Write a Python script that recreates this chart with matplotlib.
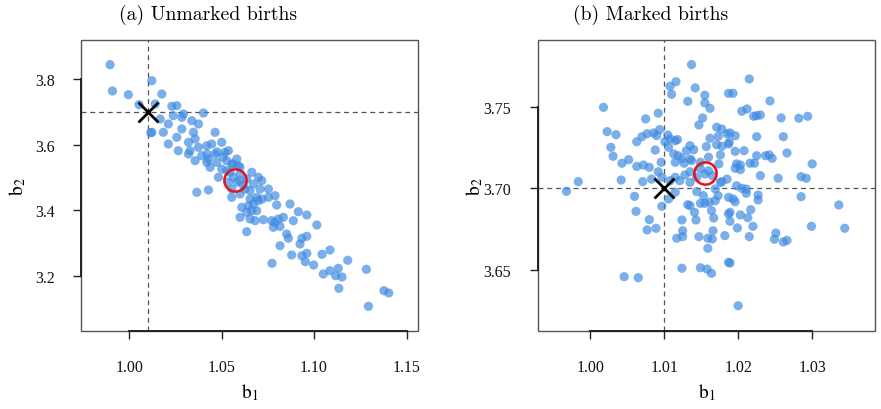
import matplotlib
matplotlib.use("Agg")
import matplotlib.pyplot as plt

plt.rcParams['font.family'] = ['Liberation Serif', 'DejaVu Serif']
plt.rcParams['mathtext.fontset'] = 'stix'

# ---------------- data ----------------
TITLES = ["(a) Unmarked births", "(b) Marked births"]
TRUE_B1 = 1.01
TRUE_B2 = 3.70

UNMARKED_B1 = [0.9897, 1.0123, 0.9910, 0.9996, 1.0054, 1.0117, 1.0177, 1.0141, 1.0231, 1.0258,
               1.0402, 1.0168, 1.0212, 1.0239, 1.0285, 1.0294, 1.0339, 1.0375, 1.0123, 1.0185,
               1.0258, 1.0285, 1.0348, 1.0357, 1.0465, 1.0212, 1.0266, 1.0321, 1.0330, 1.0375,
               1.0420, 1.0447, 1.0501, 1.0321, 1.0357, 1.0393, 1.0429, 1.0465, 1.0474, 1.0438,
               1.0519, 1.0537, 1.0528, 1.0582, 1.0555, 1.0591, 1.0501, 1.0483, 1.0546, 1.0600,
               1.0636, 1.0663, 1.0699, 1.0717, 1.0672, 1.0708, 1.0366, 1.0429, 1.0555, 1.0600,
               1.0627, 1.0654, 1.0690, 1.0753, 1.0753, 1.0789, 1.0609, 1.0645, 1.0672, 1.0564,
               1.0582, 1.0600, 1.0555, 1.0654, 1.0699, 1.0798, 1.0870, 1.0636, 1.0663, 1.0690,
               1.0600, 1.0654, 1.0681, 1.0726, 1.0771, 1.0789, 1.0807, 1.0834, 1.0780, 1.0816,
               1.0888, 1.0915, 1.0961, 1.1015, 1.0636, 1.0852, 1.0861, 1.0816, 1.0934, 1.0961,
               1.0924, 1.0879, 1.0934, 1.0961, 1.0953, 1.0998, 1.1043, 1.1086, 1.0773, 1.1050,
               1.1086, 1.1131, 1.1117, 1.1151, 1.1182, 1.1134, 1.1283, 1.1378, 1.1404, 1.1294,
               1.0422, 1.0476, 1.0508, 1.0562, 1.0528, 1.0600, 1.0420, 1.0616, 1.0535, 1.0719]
UNMARKED_B2 = [3.8435, 3.7948, 3.7635, 3.7522, 3.7218, 3.6365, 3.7543, 3.7239, 3.7169, 3.7187,
               3.6965, 3.6782, 3.6630, 3.6883, 3.6834, 3.6935, 3.6731, 3.6630, 3.6377, 3.6377,
               3.6225, 3.6478, 3.6377, 3.6174, 3.6377, 3.6021, 3.5817, 3.6073, 3.5817, 3.5921,
               3.5970, 3.6021, 3.6073, 3.5717, 3.5513, 3.5665, 3.5565, 3.5717, 3.5464, 3.5312,
               3.5769, 3.5817, 3.5513, 3.5565, 3.5412, 3.5361, 3.5260, 3.5008, 3.5160, 3.5108,
               3.4956, 3.5160, 3.5008, 3.4904, 3.4804, 3.4651, 3.4551, 3.4621, 3.4651, 3.4499,
               3.4651, 3.4600, 3.4399, 3.4651, 3.4399, 3.4447, 3.4094, 3.4143, 3.4195, 3.5008,
               3.4855, 3.4904, 3.4399, 3.4347, 3.4295, 3.4164, 3.4195, 3.3942, 3.3991, 3.3991,
               3.3790, 3.3738, 3.3687, 3.3717, 3.3687, 3.3638, 3.3738, 3.3790, 3.3486, 3.3516,
               3.3687, 3.3960, 3.3860, 3.3556, 3.3352, 3.3282, 3.3151, 3.2925, 3.3151, 3.3212,
               3.2977, 3.2642, 3.2621, 3.2694, 3.2438, 3.2338, 3.2664, 3.2795, 3.2390, 3.2064,
               3.2164, 3.2237, 3.2012, 3.1973, 3.2481, 3.1629, 3.2207, 3.1556, 3.1486, 3.1081,
               3.5717, 3.5778, 3.5626, 3.5412, 3.5209, 3.5312, 3.5464, 3.4773, 3.4865, 3.4347]
UNMARKED_EST = (1.0573, 3.4935)

MARKED_B1 = [1.0137, 1.0108, 1.0116, 1.0110, 1.0142, 1.0132, 1.0155, 1.0155, 1.0162, 1.0187,
             1.0018, 1.0092, 1.0075, 1.0152, 1.0147, 1.0171, 1.0178, 1.0023, 1.0035, 1.0070,
             1.0077, 1.0086, 1.0094, 1.0090, 1.0105, 1.0108, 1.0115, 1.0118, 1.0162, 1.0173,
             1.0185, 1.0063, 1.0101, 1.0028, 1.0106, 1.0135, 1.0157, 1.0171, 1.0178, 1.0187,
             1.0031, 1.0088, 1.0130, 1.0140, 1.0113, 1.0119, 1.0124, 1.0135, 1.0160, 1.0176,
             1.0043, 1.0052, 1.0063, 1.0072, 1.0080, 1.0096, 1.0115, 1.0127, 1.0149, 1.0174,
             1.0137, 1.0042, 1.0071, 1.0083, 1.0092, 1.0097, 1.0108, 1.0115, 1.0121, 1.0128,
             1.0135, 1.0135, 1.0144, 1.0149, 1.0160, 1.0155, 1.0165, 1.0176, 1.0185, 1.0115,
             1.0106, 1.0097, 1.0060, 1.0062, 1.0080, 1.0077, 1.0089, 1.0144, 1.0153, 1.0132,
             1.0135, 1.0149, 1.0155, 1.0161, 1.0169, 1.0173, 1.0187, 1.0141, 1.0164, 1.0167,
             1.0187, 1.0124, 1.0143, 1.0125, 1.0166, 1.0117, 1.0125, 1.0147, 1.0159, 1.0165,
             1.0159, 1.0182, 1.0124, 1.0149, 1.0158, 1.0164, 1.0046, 1.0065, 1.0187, 1.0169,
             0.9984, 0.9968, 1.0215, 1.0193, 1.0243, 1.0205, 1.0212, 1.0221, 1.0225, 1.0230,
             1.0258, 1.0282, 1.0294, 1.0189, 1.0196, 1.0225, 1.0261, 1.0188, 1.0196, 1.0208,
             1.0266, 1.0225, 1.0237, 1.0242, 1.0246, 1.0196, 1.0203, 1.0198, 1.0216, 1.0222,
             1.0203, 1.0300, 1.0230, 1.0254, 1.0285, 1.0292, 1.0178, 1.0198, 1.0205, 1.0211,
             1.0211, 1.0227, 1.0227, 1.0193, 1.0196, 1.0285, 1.0336, 1.0189, 1.0203, 1.0213,
             1.0217, 1.0189, 1.0199, 1.0220, 1.0215, 1.0251, 1.0249, 1.0261, 1.0266, 1.0299,
             1.0344, 1.0189, 1.0200]
MARKED_B2 = [3.7758, 3.7625, 3.7653, 3.7576, 3.7615, 3.7533, 3.7570, 3.7523, 3.7490, 3.7582,
             3.7496, 3.7460, 3.7425, 3.7431, 3.7388, 3.7374, 3.7363, 3.7347, 3.7328, 3.7316,
             3.7334, 3.7339, 3.7359, 3.7322, 3.7326, 3.7302, 3.7291, 3.7298, 3.7306, 3.7318,
             3.7333, 3.7285, 3.7285, 3.7251, 3.7251, 3.7261, 3.7255, 3.7267, 3.7257, 3.7271,
             3.7196, 3.7234, 3.7230, 3.7236, 3.7210, 3.7199, 3.7183, 3.7179, 3.7190, 3.7204,
             3.7153, 3.7175, 3.7134, 3.7142, 3.7128, 3.7159, 3.7159, 3.7153, 3.7159, 3.7149,
             3.7169, 3.7050, 3.7040, 3.7056, 3.7101, 3.7067, 3.7046, 3.7067, 3.7046, 3.7081,
             3.7101, 3.7036, 3.7067, 3.7118, 3.7107, 3.7087, 3.7077, 3.7036, 3.7056, 3.6975,
             3.6934, 3.6889, 3.6950, 3.6858, 3.6807, 3.6744, 3.6754, 3.6979, 3.6954, 3.6899,
             3.6893, 3.6907, 3.6907, 3.6914, 3.6923, 3.6954, 3.6944, 3.6852, 3.6862, 3.6817,
             3.6842, 3.6805, 3.6805, 3.6739, 3.6739, 3.6693, 3.6703, 3.6703, 3.6693, 3.6688,
             3.6631, 3.6709, 3.6509, 3.6512, 3.6504, 3.6478, 3.6457, 3.6451, 3.6545, 3.6995,
             3.7040, 3.6981, 3.7670, 3.7582, 3.7535, 3.7472, 3.7486, 3.7441, 3.7445, 3.7449,
             3.7431, 3.7429, 3.7441, 3.7339, 3.7322, 3.7316, 3.7316, 3.7282, 3.7226, 3.7230,
             3.7216, 3.7199, 3.7199, 3.7204, 3.7183, 3.7122, 3.7142, 3.7149, 3.7153, 3.7153,
             3.7114, 3.7149, 3.7077, 3.7061, 3.7071, 3.7061, 3.7040, 3.7015, 3.6999, 3.6995,
             3.6969, 3.6958, 3.6928, 3.6934, 3.6917, 3.6948, 3.6897, 3.6852, 3.6836, 3.6819,
             3.6868, 3.6797, 3.6756, 3.6766, 3.6703, 3.6725, 3.6687, 3.6670, 3.6680, 3.6766,
             3.6754, 3.6541, 3.6279]
MARKED_EST = (1.0155, 3.7091)

A_XTICKS = [1.00, 1.05, 1.10, 1.15]
A_XLABELS = ["1.00", "1.05", "1.10", "1.15"]
A_YTICKS = [3.2, 3.4, 3.6, 3.8]
A_YLABELS = ["3.2", "3.4", "3.6", "3.8"]
B_XTICKS = [1.00, 1.01, 1.02, 1.03]
B_XLABELS = ["1.00", "1.01", "1.02", "1.03"]
B_YTICKS = [3.65, 3.70, 3.75]
B_YLABELS = ["3.65", "3.70", "3.75"]

# ---------------- figure ----------------
W, H = 881, 410
fig = plt.figure(figsize=(W / 100, H / 100), dpi=100)

def px_axes(l, r, t, b):
    return fig.add_axes([l / W, 1 - b / H, (r - l) / W, (b - t) / H])

ax_a = px_axes(81, 418, 41, 332)
ax_b = px_axes(537.5, 875, 41, 332)

POINT_COLOR = "#3d8ae0"

def draw(ax, xs, ys, est, xlim, ylim, xt, xl, yt, yl, title, title_x):
    ax.axvline(TRUE_B1, color="#555555", lw=0.9, ls=(0, (4, 3)), zorder=1)
    ax.axhline(TRUE_B2, color="#555555", lw=0.9, ls=(0, (4, 3)), zorder=1)
    ax.scatter(xs, ys, s=44, color=POINT_COLOR, alpha=0.68, edgecolors="none", zorder=2)
    ax.plot([TRUE_B1], [TRUE_B2], marker="x", ms=14, mew=2.0, color="black", zorder=4)
    ax.plot([est[0]], [est[1]], marker="o", ms=16, mfc="none", mec="#e8101a", mew=1.8, zorder=5)
    ax.set_xlim(*xlim)
    ax.set_ylim(*ylim)
    ax.set_xticks(xt)
    ax.set_xticklabels(xl)
    ax.set_yticks(yt)
    ax.set_yticklabels(yl)
    # R-style: thin box + axis line spanning ticks
    ax.patch.set_edgecolor("#555555")
    ax.patch.set_linewidth(1.0)
    for s in ("top", "right"):
        ax.spines[s].set_visible(False)
    ax.spines["bottom"].set_bounds(xt[0], xt[-1])
    ax.spines["left"].set_bounds(yt[0], yt[-1])
    for s in ("bottom", "left"):
        ax.spines[s].set_color("#222222")
        ax.spines[s].set_linewidth(1.4)
    ax.tick_params(direction="out", length=6, width=1, color="#222222",
                   labelsize=11.5, labelcolor="#111111")
    ax.tick_params(axis="x", pad=14)
    ax.tick_params(axis="y", pad=13)
    ax.set_xlabel(r"$\mathrm{b}_1$", fontsize=14, va="center")
    ax.xaxis.set_label_coords(0.5, -61 / 291)
    ax.set_ylabel(r"$\mathrm{b}_2$", fontsize=14, va="center")
    fig.text(title_x / W, 1 - 15 / H, title, ha="center", va="center",
             fontfamily="cmr10", fontsize=14.2)

draw(ax_a, UNMARKED_B1, UNMARKED_B2, UNMARKED_EST, (0.9740, 1.1562), (3.0329, 3.9187),
     A_XTICKS, A_XLABELS, A_YTICKS, A_YLABELS, TITLES[0], 208)
ax_a.yaxis.set_label_coords((18 - 81) / 337, 0.5)
draw(ax_b, MARKED_B1, MARKED_B2, MARKED_EST, (0.99289, 1.03849), (3.6124, 3.7909),
     B_XTICKS, B_XLABELS, B_YTICKS, B_YLABELS, TITLES[1], 651)
ax_b.yaxis.set_label_coords((475 - 537.5) / 337.5, 0.5)

fig.savefig("out.png", dpi=100)
